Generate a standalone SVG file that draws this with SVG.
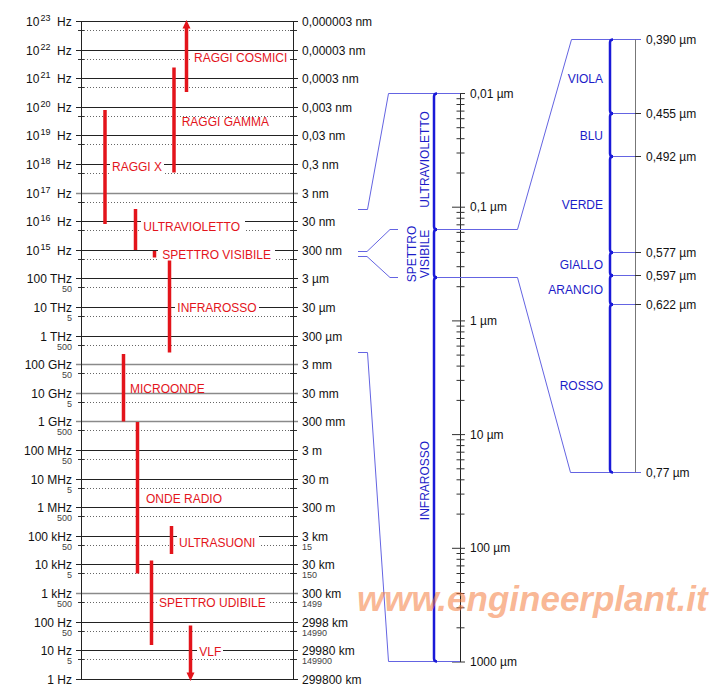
<svg xmlns="http://www.w3.org/2000/svg" width="716" height="700" viewBox="0 0 716 700">
<style>
text{font-family:"Liberation Sans",Arial,sans-serif;}
.lbl{font-size:12px;fill:#111;}
.lblE{font-size:12px;fill:#111;text-anchor:end;}
.sm{font-size:9px;fill:#444;}
.smE{font-size:9px;fill:#444;text-anchor:end;}
.sup{font-size:9px;}
.red{font-size:12px;fill:#e3141b;}
.bluE{font-size:12px;fill:#1c1cc8;text-anchor:end;}
.bluM{font-size:12px;fill:#1c1cc8;text-anchor:middle;}
.bar{stroke:#e3141b;stroke-width:3.5;fill:none;}
.bg{fill:#fff;}
.thin{stroke:#6464e2;stroke-width:1;fill:none;}
.thick{stroke:#1a1ad8;stroke-width:2.5;fill:none;}
.solid{stroke:#222;stroke-width:1;fill:none;}
.solidG{stroke:#8a8a8a;stroke-width:1.6;fill:none;}
.dot{stroke:#666;stroke-width:1;stroke-dasharray:1 2;fill:none;}
.tick{stroke:#333;stroke-width:1;fill:none;}
</style>
<rect width="716" height="700" fill="#fff"/>

<g id="left-scale">
<path class="solid" d="M76,21.5H298M76,50.5H298M76,78.5H298M76,107.5H298M76,135.5H298M76,164.5H298M76,221.5H298M76,250.5H298M76,278.5H298M76,307.5H298M76,336.5H298M76,450.5H298M76,479.5H298M76,507.5H298M76,536.5H298M76,564.5H298M76,622.5H298M76,650.5H298M76,679.5H298"/>
<path class="solidG" d="M76,193.5H298M76,364.5H298M76,393.5H298M76,421.5H298M76,593.5H298"/>
<path class="dot" d="M84,30.5H290M84,59.5H290M84,87.5H290M84,116.5H290M84,144.5H290M84,173.5H290M84,202.5H290M84,230.5H290M84,259.5H290M84,287.5H290M84,316.5H290M84,345.5H290M84,373.5H290M84,402.5H290M84,430.5H290M84,459.5H290M84,488.5H290M84,516.5H290M84,545.5H290M84,573.5H290M84,602.5H290M84,631.5H290M84,659.5H290"/>
<path class="tick" d="M78,30.5H84M290,30.5H297M78,59.5H84M290,59.5H297M78,87.5H84M290,87.5H297M78,116.5H84M290,116.5H297M78,144.5H84M290,144.5H297M78,173.5H84M290,173.5H297M78,202.5H84M290,202.5H297M78,230.5H84M290,230.5H297M78,259.5H84M290,259.5H297M78,287.5H84M290,287.5H297M78,316.5H84M290,316.5H297M78,345.5H84M290,345.5H297M78,373.5H84M290,373.5H297M78,402.5H84M290,402.5H297M78,430.5H84M290,430.5H297M78,459.5H84M290,459.5H297M78,488.5H84M290,488.5H297M78,516.5H84M290,516.5H297M78,545.5H84M290,545.5H297M78,573.5H84M290,573.5H297M78,602.5H84M290,602.5H297M78,631.5H84M290,631.5H297M78,659.5H84M290,659.5H297"/>
<path class="solid" d="M81.5,21.5V679.5M293.5,21.5V679.5"/>

<text class="lbl" x="26" y="25.5">10<tspan class="sup" dy="-4.5" x="40.5">23</tspan><tspan dy="4.5" x="57">Hz</tspan></text>
<text class="lbl" x="26" y="54.5">10<tspan class="sup" dy="-4.5" x="40.5">22</tspan><tspan dy="4.5" x="57">Hz</tspan></text>
<text class="lbl" x="26" y="82.5">10<tspan class="sup" dy="-4.5" x="40.5">21</tspan><tspan dy="4.5" x="57">Hz</tspan></text>
<text class="lbl" x="26" y="111.5">10<tspan class="sup" dy="-4.5" x="40.5">20</tspan><tspan dy="4.5" x="57">Hz</tspan></text>
<text class="lbl" x="26" y="139.5">10<tspan class="sup" dy="-4.5" x="40.5">19</tspan><tspan dy="4.5" x="57">Hz</tspan></text>
<text class="lbl" x="26" y="168.5">10<tspan class="sup" dy="-4.5" x="40.5">18</tspan><tspan dy="4.5" x="57">Hz</tspan></text>
<text class="lbl" x="26" y="197.5">10<tspan class="sup" dy="-4.5" x="40.5">17</tspan><tspan dy="4.5" x="57">Hz</tspan></text>
<text class="lbl" x="26" y="225.5">10<tspan class="sup" dy="-4.5" x="40.5">16</tspan><tspan dy="4.5" x="57">Hz</tspan></text>
<text class="lbl" x="26" y="254.5">10<tspan class="sup" dy="-4.5" x="40.5">15</tspan><tspan dy="4.5" x="57">Hz</tspan></text>
<text class="lblE" x="72" y="282.5">100 THz</text>
<text class="lblE" x="72" y="311.5">10 THz</text>
<text class="lblE" x="72" y="340.5">1 THz</text>
<text class="lblE" x="72" y="368.5">100 GHz</text>
<text class="lblE" x="72" y="397.5">10 GHz</text>
<text class="lblE" x="72" y="425.5">1 GHz</text>
<text class="lblE" x="72" y="454.5">100 MHz</text>
<text class="lblE" x="72" y="483.5">10 MHz</text>
<text class="lblE" x="72" y="511.5">1 MHz</text>
<text class="lblE" x="72" y="540.5">100 kHz</text>
<text class="lblE" x="72" y="568.5">10 kHz</text>
<text class="lblE" x="72" y="597.5">1 kHz</text>
<text class="lblE" x="72" y="626.5">100 Hz</text>
<text class="lblE" x="72" y="654.5">10 Hz</text>
<text class="lblE" x="72" y="683.5">1 Hz</text>

<text class="smE" x="72" y="292">50</text>
<text class="smE" x="72" y="321">5</text>
<text class="smE" x="72" y="350">500</text>
<text class="smE" x="72" y="378">50</text>
<text class="smE" x="72" y="407">5</text>
<text class="smE" x="72" y="435">500</text>
<text class="smE" x="72" y="464">50</text>
<text class="smE" x="72" y="493">5</text>
<text class="smE" x="72" y="521">500</text>
<text class="smE" x="72" y="550">50</text>
<text class="smE" x="72" y="578">5</text>
<text class="smE" x="72" y="607">500</text>
<text class="smE" x="72" y="636">50</text>
<text class="smE" x="72" y="664">5</text>

<text class="lbl" x="302" y="25.5">0,000003 nm</text>
<text class="lbl" x="302" y="54.5">0,00003 nm</text>
<text class="lbl" x="302" y="82.5">0,0003 nm</text>
<text class="lbl" x="302" y="111.5">0,003 nm</text>
<text class="lbl" x="302" y="139.5">0,03 nm</text>
<text class="lbl" x="302" y="168.5">0,3 nm</text>
<text class="lbl" x="302" y="197.5">3 nm</text>
<text class="lbl" x="302" y="225.5">30 nm</text>
<text class="lbl" x="302" y="254.5">300 nm</text>
<text class="lbl" x="302" y="282.5">3 µm</text>
<text class="lbl" x="302" y="311.5">30 µm</text>
<text class="lbl" x="302" y="340.5">300 µm</text>
<text class="lbl" x="302" y="368.5">3 mm</text>
<text class="lbl" x="302" y="397.5">30 mm</text>
<text class="lbl" x="302" y="425.5">300 mm</text>
<text class="lbl" x="302" y="454.5">3 m</text>
<text class="lbl" x="302" y="483.5">30 m</text>
<text class="lbl" x="302" y="511.5">300 m</text>
<text class="lbl" x="302" y="540.5">3 km</text>
<text class="lbl" x="302" y="568.5">30 km</text>
<text class="lbl" x="302" y="597.5">300 km</text>
<text class="lbl" x="302" y="626.5">2998 km</text>
<text class="lbl" x="302" y="654.5">29980 km</text>
<text class="lbl" x="302" y="683.5">299800 km</text>
<text class="sm" x="302" y="550">15</text>
<text class="sm" x="302" y="578">150</text>
<text class="sm" x="302" y="607">1499</text>
<text class="sm" x="302" y="636">14990</text>
<text class="sm" x="302" y="664">149900</text>
</g>

<g id="raggi-cosmici">
<rect class="bg" x="192" y="51" width="98" height="14"/>
<path class="bar" d="M186.5,92V27"/>
<polygon points="186.5,20 182.5,28.5 190.5,28.5" fill="#e3141b"/>
<text class="red" x="194" y="62">RAGGI COSMICI</text>
</g>
<g id="raggi-gamma">
<path class="bar" d="M174,67.5V172.5"/>
<text class="red" x="181.7" y="126.3">RAGGI GAMMA</text>
</g>
<g id="raggi-x">
<rect class="bg" x="110" y="160" width="54" height="14"/>
<path class="bar" d="M105,110V224"/>
<text class="red" x="112" y="171">RAGGI X</text>
</g>
<g id="ultravioletto">
<rect class="bg" x="141" y="220" width="104" height="14"/>
<path class="bar" d="M135.5,209V250"/>
<text class="red" x="143.3" y="231">ULTRAVIOLETTO</text>
</g>
<g id="spettro-visibile">
<rect class="bg" x="158" y="246" width="117" height="15"/>
<path class="bar" d="M154.5,251V257.5"/>
<text class="red" x="162.3" y="258.6">SPETTRO VISIBILE</text>
</g>
<g id="infrarosso">
<rect class="bg" x="175" y="300" width="84" height="14"/>
<path class="bar" d="M169.5,260.5V352.5"/>
<text class="red" x="177.3" y="311.6">INFRAROSSO</text>
</g>
<g id="microonde">
<path class="bar" d="M123.5,354V421.5"/>
<text class="red" x="130" y="392.6">MICROONDE</text>
</g>
<g id="onde-radio">
<path class="bar" d="M137.5,422V573.5"/>
<text class="red" x="146" y="503">ONDE RADIO</text>
</g>
<g id="ultrasuoni">
<rect class="bg" x="177" y="536" width="82" height="14"/>
<path class="bar" d="M171.5,526V554"/>
<text class="red" x="179" y="547">ULTRASUONI</text>
</g>
<g id="spettro-udibile">
<rect class="bg" x="157" y="596" width="111" height="14"/>
<path class="bar" d="M151.5,560.5V645"/>
<text class="red" x="159" y="607">SPETTRO UDIBILE</text>
</g>
<g id="vlf">
<rect class="bg" x="197" y="644" width="26" height="14"/>
<path class="bar" d="M190.5,625.5V673"/>
<polygon points="190.5,681 186.5,672.5 194.5,672.5" fill="#e3141b"/>
<text class="red" x="199.3" y="655.6">VLF</text>
</g>

<g id="middle-scale">
<path class="solid" d="M460.5,93.5V662"/>
<path class="tick" d="M452,93.5H465M452,207.2H465M452,320.9H465M452,434.6H465M452,548.3H465M452,662H465"/>
<path class="tick" d="M456.5,98.7h8M456.5,104.5h8M456.5,111.1h8M456.5,118.7h8M456.5,127.7h8M456.5,138.7h8M456.5,153h8M456.5,173h8M456.5,212.4h8M456.5,218.2h8M456.5,224.8h8M456.5,232.4h8M456.5,241.4h8M456.5,252.4h8M456.5,266.7h8M456.5,286.7h8M456.5,326.1h8M456.5,331.9h8M456.5,338.5h8M456.5,346.1h8M456.5,355.1h8M456.5,366.1h8M456.5,380.4h8M456.5,400.4h8M456.5,439.8h8M456.5,445.6h8M456.5,452.2h8M456.5,459.8h8M456.5,468.8h8M456.5,479.8h8M456.5,494.1h8M456.5,514.1h8M456.5,553.5h8M456.5,559.3h8M456.5,565.9h8M456.5,573.5h8M456.5,582.5h8M456.5,593.5h8M456.5,607.8h8M456.5,627.8h8"/>
<text class="lbl" x="470" y="97.5">0,01 µm</text>
<text class="lbl" x="470" y="211.2">0,1 µm</text>
<text class="lbl" x="470" y="324.9">1 µm</text>
<text class="lbl" x="470" y="438.6">10 µm</text>
<text class="lbl" x="470" y="552.3">100 µm</text>
<text class="lbl" x="470" y="666">1000 µm</text>
</g>

<g id="connectors">
<path class="thin" d="M358,209.5H367.5L388.5,93.5H460"/>
<path class="thin" d="M358,251.5H367L390,229.5H398M434,229.5H517.5L571.5,39.5H641"/>
<path class="thin" d="M358,256.5H367L390,277.5H398M434,277.5H517.5L570.5,472.5H641"/>
<path class="thin" d="M358,352.5H367.5L388.5,661.5H460"/>
<path class="thin" d="M613,113.5H635M613,156.5H635M613,252.5H635M613,275.5H635M613,304.5H635"/>
</g>

<g id="band-ultravioletto">
<path class="thick" d="M437,93.5Q434,93.5 434,96.5V226.5Q434,229.5 437,229.5"/>
<text class="bluM" transform="translate(429,159.5) rotate(-90)">ULTRAVIOLETTO</text>
</g>
<g id="band-spettro-visibile">
<path class="thick" d="M437,229.5Q434,229.5 434,232.5V274.5Q434,277.5 437,277.5"/>
<text class="bluM" transform="translate(416,254) rotate(-90)">SPETTRO</text>
<text class="bluM" transform="translate(428.5,254) rotate(-90)">VISIBILE</text>
</g>
<g id="band-infrarosso">
<path class="thick" d="M437,277.5Q434,277.5 434,280.5V658.5Q434,661.5 437,661.5"/>
<text class="bluM" transform="translate(428.5,480.5) rotate(-90)">INFRAROSSO</text>
</g>

<g id="right-scale">
<path d="M635.5,39.5V472.5" stroke="#777" stroke-width="1" fill="none"/>
<path class="tick" d="M635,113.5H641M635,156.5H641M635,252.5H641M635,275.5H641M635,304.5H641"/>
<text class="lbl" x="646" y="43.5">0,390 µm</text>
<text class="lbl" x="646" y="117.5">0,455 µm</text>
<text class="lbl" x="646" y="160.5">0,492 µm</text>
<text class="lbl" x="646" y="256.5">0,577 µm</text>
<text class="lbl" x="646" y="279.5">0,597 µm</text>
<text class="lbl" x="646" y="308.5">0,622 µm</text>
<text class="lbl" x="646" y="476.5">0,77 µm</text>
</g>
<g id="viola">
<path class="thick" d="M613,39.5Q610,39.5 610,42.5V110.5Q610,113.5 613,113.5"/>
<text class="bluE" x="603" y="82.5">VIOLA</text>
</g>
<g id="blu">
<path class="thick" d="M613,113.5Q610,113.5 610,116.5V153.5Q610,156.5 613,156.5"/>
<text class="bluE" x="603" y="139.5">BLU</text>
</g>
<g id="verde">
<path class="thick" d="M613,156.5Q610,156.5 610,159.5V249.5Q610,252.5 613,252.5"/>
<text class="bluE" x="603" y="208.5">VERDE</text>
</g>
<g id="giallo">
<path class="thick" d="M613,252.5Q610,252.5 610,255.5V272.5Q610,275.5 613,275.5"/>
<text class="bluE" x="603" y="268.5">GIALLO</text>
</g>
<g id="arancio">
<path class="thick" d="M613,275.5Q610,275.5 610,278.5V301.5Q610,304.5 613,304.5"/>
<text class="bluE" x="603" y="294">ARANCIO</text>
</g>
<g id="rosso">
<path class="thick" d="M613,304.5Q610,304.5 610,307.5V469.5Q610,472.5 613,472.5"/>
<text class="bluE" x="603" y="390">ROSSO</text>
</g>

<text x="357" y="611" font-size="35" font-weight="bold" font-style="italic" fill="#f47a3a" fill-opacity="0.55">www.engineerplant.it</text>
</svg>
